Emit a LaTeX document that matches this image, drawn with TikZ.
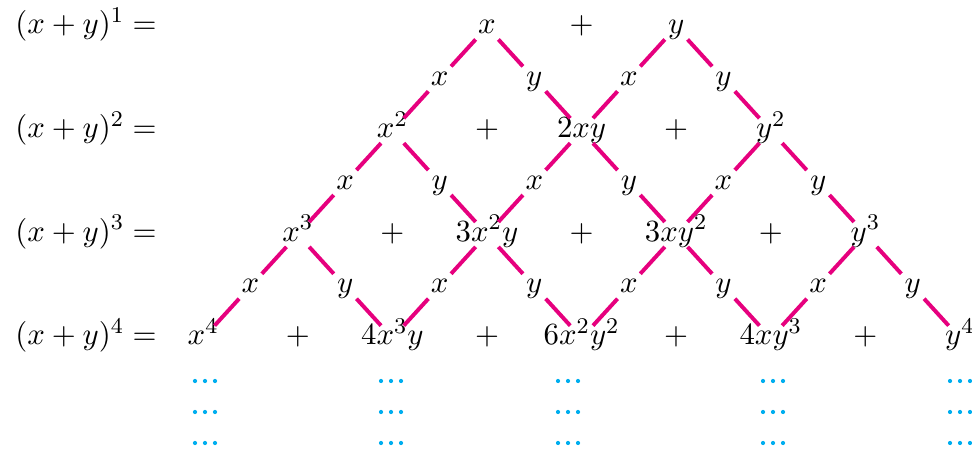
\documentclass[tikz,border=0pt]{standalone}
\usepackage{xcolor}
\usepackage{tikz}
\usetikzlibrary{calc, positioning}
\definecolor{branchpink}{RGB}{230,0,126}
\definecolor{dotcyan}{RGB}{0,174,239}
\tikzstyle{term} = [inner sep=1pt, text height=1.6ex, text depth=0.5ex, font=\fontsize{11}{13}\selectfont]
\tikzstyle{factor} = [term]
\tikzstyle{rowlabel} = [term, anchor=west]
\tikzstyle{branch} = [draw=branchpink, line width=1.4pt, shorten <=6pt, shorten >=6pt]

\begin{document}
\begin{tikzpicture}[x=0.0125cm, y=-0.0125cm]
        \useasboundingbox (0,0) rectangle (972,450);

        % left column
        \foreach \r in {1,...,4}
            \node [rowlabel] (row\r) at (12,{27+103.7*(\r-1)}) {$(x+y)^{\r} =$};

        % terms of each expansion
        \foreach \k/\tm in {0/x, 1/y}
            \node [term] (t1\k) at ({487+189.2*\k},27) {$\tm$};
        \foreach \k/\tm in {0/x^2, 1/2xy, 2/y^2}
            \node [term] (t2\k) at ({392.4+189.2*\k},130.7) {$\tm$};
        \foreach \k/\tm in {0/x^3, 1/3x^2y, 2/3xy^2, 3/y^3}
            \node [term] (t3\k) at ({297.8+189.2*\k},234.4) {$\tm$};
        \foreach \k/\tm in {0/x^4, 1/4x^3y, 2/6x^2y^2, 3/4xy^3, 4/y^4}
            \node [term] (t4\k) at ({203.2+189.2*\k},338.1) {$\tm$};

        % plus signs
        \foreach \r in {1,...,4}
            \foreach \k in {1,...,\r}{
                \pgfmathtruncatemacro{\i}{\k-1}
                \node [term] (p\r\k) at ($(t\r\i)!0.5!(t\r\k)$) {$+$};
            }

        % branches with their factors
        \foreach \r in {1,2,3}{
            \pgfmathtruncatemacro{\s}{\r+1}
            \foreach \k in {0,...,\r}{
                \pgfmathtruncatemacro{\j}{\k+1}
                \node [factor] (fx\r\k) at ($(t\r\k)!0.5!(t\s\k)$) {$x$};
                \node [factor] (fy\r\k) at ($(t\r\k)!0.5!(t\s\j)$) {$y$};
                \draw [branch] (t\r\k.center) -- (fx\r\k.center);
                \draw [branch] (fx\r\k.center) -- (t\s\k.center);
                \draw [branch] (t\r\k.center) -- (fy\r\k.center);
                \draw [branch] (fy\r\k.center) -- (t\s\j.center);
            }
        }

        % continuation dots
        \foreach \dx in {205,391,568,773,960}
            \foreach \dy in {381,412,443}
                \foreach \i in {-10,0,10}
                    \fill [dotcyan] (\dx+\i,\dy) circle (0.75pt);
    \end{tikzpicture}
\end{document}
